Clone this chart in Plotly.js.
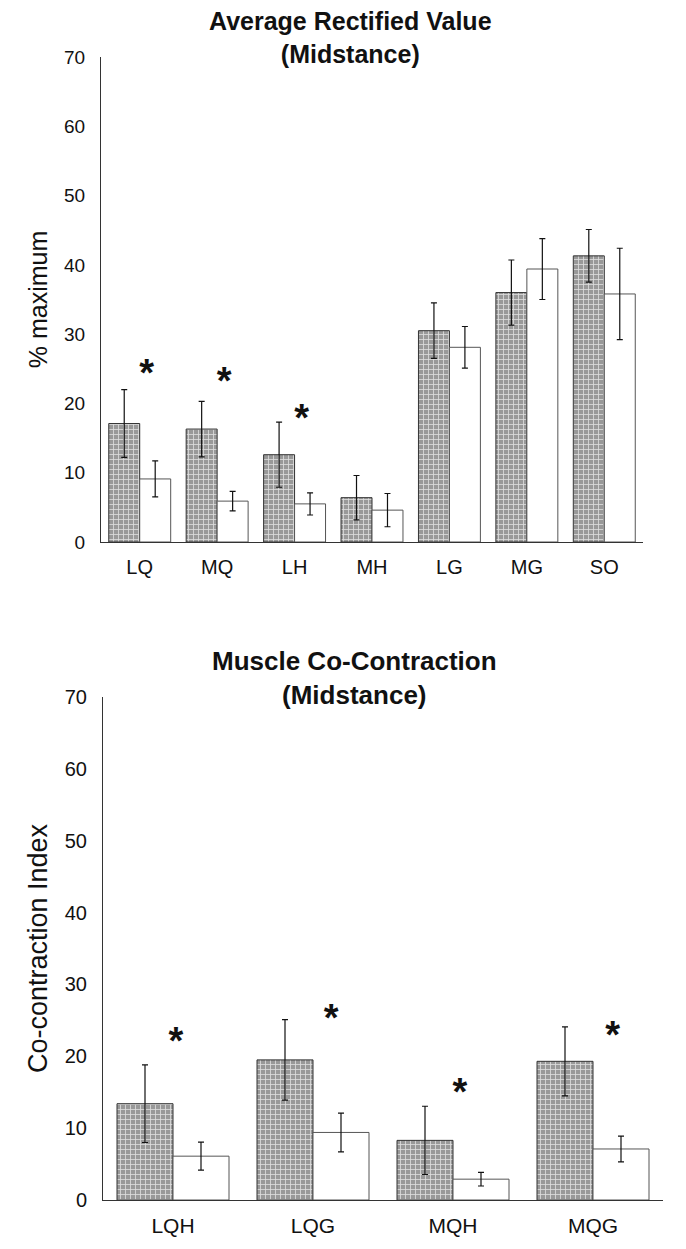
<!DOCTYPE html>
<html>
<head>
<meta charset="utf-8">
<script src="https://cdn.plot.ly/plotly-3.0.1.min.js"></script>
<style>html,body{margin:0;padding:0;background:#fff;}#chart{width:686px;height:1249px;}</style>
</head>
<body>
<div id="chart"></div>
<script>
// ---- Top chart: Average Rectified Value (Midstance) ----
var arvCategories = ["LQ", "MQ", "LH", "MH", "LG", "MG", "SO"];
var arvGroupA = [17.1, 16.3, 12.6, 6.4, 30.5, 36.0, 41.3];
var arvGroupAErr = [4.9, 4.0, 4.7, 3.2, 4.0, 4.7, 3.8];
var arvGroupB = [9.1, 5.9, 5.5, 4.6, 28.1, 39.4, 35.8];
var arvGroupBErr = [2.6, 1.4, 1.6, 2.4, 3.0, 4.4, 6.6];
var arvStars = [23.9, 22.8, 17.4, null, null, null, null];

// ---- Bottom chart: Muscle Co-Contraction (Midstance) ----
var cciCategories = ["LQH", "LQG", "MQH", "MQG"];
var cciGroupA = [13.4, 19.5, 8.3, 19.3];
var cciGroupAErr = [5.4, 5.6, 4.75, 4.8];
var cciGroupB = [6.1, 9.4, 2.9, 7.1];
var cciGroupBErr = [1.95, 2.7, 0.95, 1.8];
var cciStars = [21.7, 24.8, 14.5, 22.5];
var cciStarShift = [0.02, 0.13, 0.05, 0.14];

var FONT = "Liberation Sans, Arial, sans-serif";

function idx(arr) { return arr.map(function (_, i) { return i; }); }

var grayMarker = {
  color: "#999999",
  pattern: { shape: "+", bgcolor: "#999999", fgcolor: "#dedede", size: 5, solidity: 0.3, fillmode: "replace" },
  line: { color: "#333", width: 1 }
};
var whiteMarker = { color: "#ffffff", line: { color: "#555", width: 1 } };
function err(arr) { return { type: "data", array: arr, visible: true, color: "#111", thickness: 1.2, width: 3 }; }

var starFont = { family: FONT, size: 38, color: "#111" };

var traces = [
  { type: "bar", x: idx(arvCategories), y: arvGroupA, marker: grayMarker, error_y: err(arvGroupAErr), xaxis: "x", yaxis: "y", showlegend: false, hoverinfo: "y" },
  { type: "bar", x: idx(arvCategories), y: arvGroupB, marker: whiteMarker, error_y: err(arvGroupBErr), xaxis: "x", yaxis: "y", showlegend: false, hoverinfo: "y" },
  { type: "scatter", mode: "text", x: idx(arvCategories).map(function (i) { return i + 0.09; }), y: arvStars,
    text: arvStars.map(function (v) { return v === null ? "" : "<b>*</b>"; }), textposition: "middle center",
    textfont: starFont, xaxis: "x", yaxis: "y", showlegend: false, hoverinfo: "skip" },

  { type: "bar", x: idx(cciCategories), y: cciGroupA, marker: grayMarker, error_y: err(cciGroupAErr), xaxis: "x2", yaxis: "y2", showlegend: false, hoverinfo: "y" },
  { type: "bar", x: idx(cciCategories), y: cciGroupB, marker: whiteMarker, error_y: err(cciGroupBErr), xaxis: "x2", yaxis: "y2", showlegend: false, hoverinfo: "y" },
  { type: "scatter", mode: "text", x: idx(cciCategories).map(function (i) { return i + cciStarShift[i]; }), y: cciStars,
    text: cciStars.map(function () { return "<b>*</b>"; }), textposition: "middle center",
    textfont: starFont, xaxis: "x2", yaxis: "y2", showlegend: false, hoverinfo: "skip" }
];

function xAxis(cats, domain, anchor, fs) {
  return {
    domain: domain, anchor: anchor, range: [-0.5, cats.length - 0.5],
    tickmode: "array", tickvals: idx(cats), ticktext: cats,
    showline: true, linecolor: "#333", linewidth: 1, ticks: "", showgrid: false, zeroline: false,
    tickfont: { family: FONT, size: fs, color: "#111" }, ticklabelstandoff: 7, fixedrange: true
  };
}
function yAxis(domain, anchor, title, fs, tfs) {
  return {
    domain: domain, anchor: anchor, range: [0, 70], dtick: 10, tick0: 0,
    showline: true, linecolor: "#333", linewidth: 1, ticks: "", showgrid: false, zeroline: false,
    tickfont: { family: FONT, size: fs, color: "#111" }, ticklabelstandoff: 11,
    title: { text: title, font: { family: FONT, size: tfs, color: "#111" }, standoff: 9 }, fixedrange: true
  };
}

var W = 686, H = 1249;
var layout = {
  width: W, height: H,
  margin: { l: 0, r: 0, t: 0, b: 0 },
  paper_bgcolor: "#fff", plot_bgcolor: "#fff",
  barmode: "group", bargap: 0.2, bargroupgap: 0,
  font: { family: FONT, color: "#111" },
  xaxis: xAxis(arvCategories, [101 / W, 643 / W], "y", 20),
  yaxis: yAxis([1 - 542 / H, 1 - 57 / H], "x", "% maximum", 19, 25),
  xaxis2: xAxis(cciCategories, [103 / W, 663 / W], "y2", 21),
  yaxis2: yAxis([1 - 1200 / H, 1 - 697 / H], "x2", "Co-contraction Index", 20, 27),
  annotations: [
    { text: "<b>Average Rectified Value<br>(Midstance)</b>", xref: "paper", yref: "paper",
      x: 350 / W, y: 1 - 37 / H, xanchor: "center", yanchor: "middle", showarrow: false,
      font: { family: FONT, size: 25, color: "#111" } },
    { text: "<b>Muscle Co-Contraction<br>(Midstance)</b>", xref: "paper", yref: "paper",
      x: 354 / W, y: 1 - 678 / H, xanchor: "center", yanchor: "middle", showarrow: false,
      font: { family: FONT, size: 26, color: "#111" } }
  ]
};

Plotly.newPlot("chart", traces, layout, { displayModeBar: false, staticPlot: true });
</script>
</body>
</html>
